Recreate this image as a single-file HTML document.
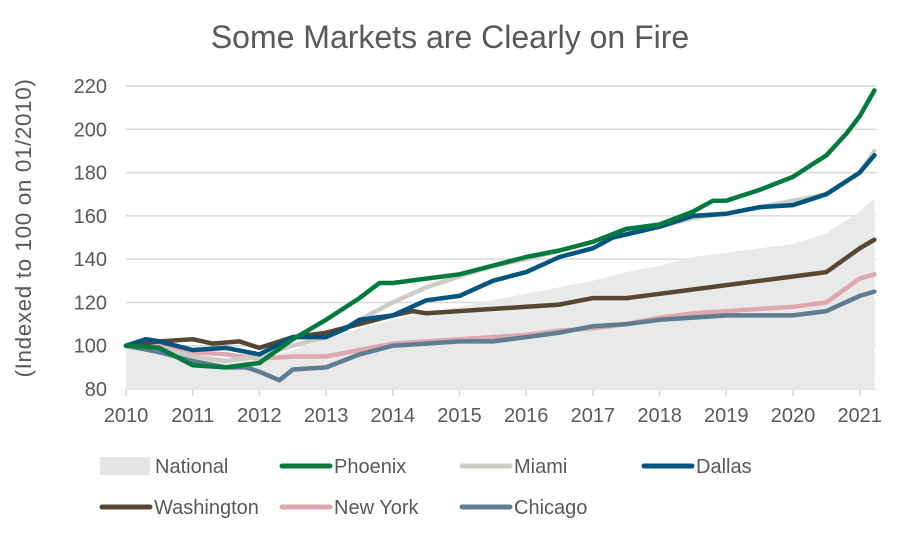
<!DOCTYPE html>
<html><head><meta charset="utf-8"><style>
body{margin:0;background:#fff;}
svg text{font-family:"Liberation Sans",Arial,sans-serif;fill:#595959;}
</style></head><body>
<svg id="s" width="898" height="537" xmlns="http://www.w3.org/2000/svg">
<text x="450" y="48" font-size="32" text-anchor="middle">Some Markets are Clearly on Fire</text>
<text transform="translate(31,228) rotate(-90)" font-size="22.5" text-anchor="middle" letter-spacing="0.6">(Indexed to 100 on 01/2010)</text>
<g id="grid"></g>
<g id="series"></g>
<g font-size="20">
<rect x="100" y="457" width="50" height="18" fill="#e6e6e6"/><text x="155" y="473">National</text>
<line x1="282" y1="466" x2="330" y2="466" stroke="#007a3d" stroke-width="5" stroke-linecap="round"/><text x="334" y="473">Phoenix</text>
<line x1="462" y1="466" x2="510" y2="466" stroke="#cfccc8" stroke-width="5" stroke-linecap="round"/><text x="514" y="473">Miami</text>
<line x1="644" y1="466" x2="692" y2="466" stroke="#00557f" stroke-width="5" stroke-linecap="round"/><text x="696" y="473">Dallas</text>
<line x1="102" y1="507" x2="150" y2="507" stroke="#574630" stroke-width="5" stroke-linecap="round"/><text x="154" y="514">Washington</text>
<line x1="282" y1="507" x2="330" y2="507" stroke="#dfa8b0" stroke-width="5" stroke-linecap="round"/><text x="334" y="514">New York</text>
<line x1="462" y1="507" x2="510" y2="507" stroke="#5e7d91" stroke-width="5" stroke-linecap="round"/><text x="514" y="514">Chicago</text>
</g>
</svg>
<script>
const NS="http://www.w3.org/2000/svg";
const X=t=>126+(t-2010)*66.7, Y=v=>389-(v-80)*2.164;
const g=document.getElementById('grid'), s=document.getElementById('series');
function el(p,tag,a,txt){const e=document.createElementNS(NS,tag);for(const k in a)e.setAttribute(k,a[k]);if(txt!=null)e.textContent=txt;p.appendChild(e);return e;}
for(let v=80;v<=220;v+=20){
 if(v>80)el(g,'line',{x1:126,x2:876,y1:Y(v),y2:Y(v),stroke:'#d9d9d9','stroke-width':1.5});
 el(g,'text',{x:107,y:Y(v)+7,'font-size':20,'text-anchor':'end'},v);
}
el(g,'line',{x1:126,x2:876,y1:389,y2:389,stroke:'#d9d9d9','stroke-width':1.5});
for(let y=2010;y<=2021;y++){
 el(g,'line',{x1:X(y),x2:X(y),y1:389,y2:396,stroke:'#d9d9d9','stroke-width':1.5});
 el(g,'text',{x:X(y),y:422,'font-size':20,'text-anchor':'middle'},y);
}
const D={
nat:[[2010,100],[2010.5,98],[2011,95],[2011.5,94],[2012,93],[2012.5,98],[2013,103],[2013.5,108],[2014,112],[2014.5,115],[2015,118],[2015.5,121],[2016,124],[2016.5,127],[2017,130],[2017.5,134],[2018,137],[2018.5,141],[2019,143],[2019.5,145],[2020,147],[2020.5,152],[2021,162],[2021.22,168]],
chi:[[2010,100],[2010.5,97],[2011,93],[2011.5,90],[2011.8,90],[2012,88],[2012.3,84],[2012.5,89],[2013,90],[2013.5,96],[2014,100],[2014.5,101],[2015,102],[2015.5,102],[2016,104],[2016.5,106],[2017,109],[2017.5,110],[2018,112],[2018.5,113],[2019,114],[2019.5,114],[2020,114],[2020.5,116],[2021,123],[2021.22,125]],
ny:[[2010,100],[2010.5,100],[2011,97],[2011.5,96],[2012,94],[2012.5,95],[2013,95],[2013.5,98],[2014,101],[2014.5,102],[2015,103],[2015.5,104],[2016,105],[2016.5,107],[2017,108],[2017.5,110],[2018,113],[2018.5,115],[2019,116],[2019.5,117],[2020,118],[2020.5,120],[2021,131],[2021.22,133]],
mia:[[2010,100],[2010.5,99],[2011,95],[2011.5,93],[2012,95],[2012.5,100],[2013,104],[2013.5,112],[2014,120],[2014.5,127],[2015,132],[2015.5,137],[2016,140],[2016.5,144],[2017,148],[2017.5,152],[2018,155],[2018.5,159],[2019,161],[2019.5,164],[2020,167],[2020.5,170],[2021,180],[2021.22,190]],
was:[[2010,100],[2010.5,102],[2011,103],[2011.3,101],[2011.7,102],[2012,99],[2012.5,104],[2013,106],[2013.5,110],[2014,114],[2014.3,116],[2014.5,115],[2015,116],[2015.5,117],[2016,118],[2016.5,119],[2017,122],[2017.5,122],[2018,124],[2018.5,126],[2019,128],[2019.5,130],[2020,132],[2020.5,134],[2021,145],[2021.22,149]],
dal:[[2010,100],[2010.3,103],[2010.5,102],[2011,98],[2011.5,99],[2012,96],[2012.5,104],[2013,104],[2013.3,108],[2013.5,112],[2014,114],[2014.5,121],[2015,123],[2015.5,130],[2016,134],[2016.5,141],[2017,145],[2017.3,150],[2018,155],[2018.5,160],[2019,161],[2019.5,164],[2020,165],[2020.5,170],[2021,180],[2021.22,188]],
phx:[[2010,100],[2010.5,99],[2011,91],[2011.5,90],[2012,92],[2012.5,103],[2013,112],[2013.5,122],[2013.8,129],[2014,129],[2014.5,131],[2015,133],[2015.5,137],[2016,141],[2016.5,144],[2017,148],[2017.5,154],[2018,156],[2018.5,162],[2018.8,167],[2019,167],[2019.5,172],[2020,178],[2020.3,184],[2020.5,188],[2020.8,198],[2021,206],[2021.22,218]]
};
const pts=a=>a.map(p=>X(p[0]).toFixed(1)+','+Y(p[1]).toFixed(1)).join(' ');
el(s,'polygon',{points:pts(D.nat)+' '+X(2021.22)+','+Y(80)+' '+X(2010)+','+Y(80),fill:'#e8e9e9'});
const C={chi:'#5e7d91',ny:'#dfa8b0',mia:'#cfccc8',was:'#574630',dal:'#00557f',phx:'#007a3d'};
for(const k of ['ny','chi','mia','was','dal','phx'])
 el(s,'polyline',{points:pts(D[k]),fill:'none',stroke:C[k],'stroke-width':4.5,'stroke-linejoin':'round','stroke-linecap':'round'});
</script>
</body></html>
